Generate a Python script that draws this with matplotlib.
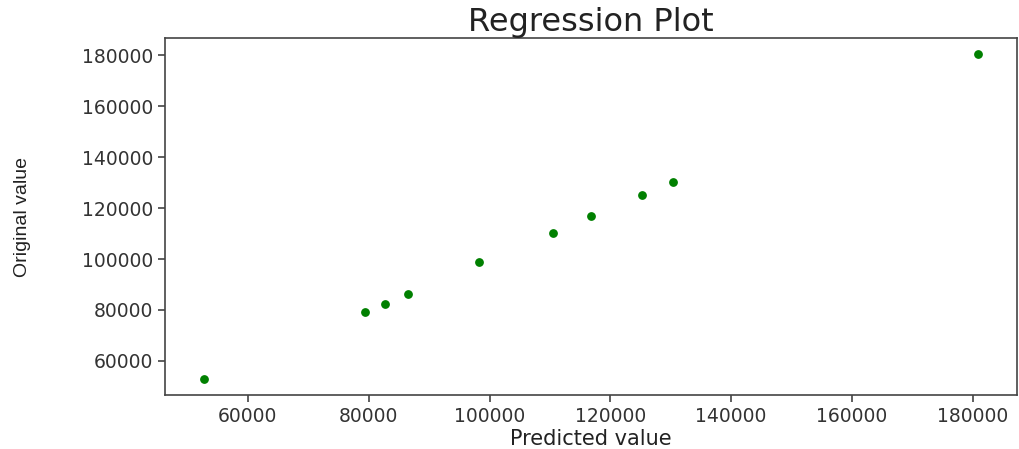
import matplotlib
matplotlib.use('Agg')
import matplotlib.pyplot as plt

# predicted vs original values
predicted = [52700, 79400, 82700, 86500, 98200, 110500, 116800, 125200, 130400, 180900]
original = [52900, 79200, 82400, 86300, 98800, 110300, 116800, 125100, 130300, 180400]

x_ticks = [60000, 80000, 100000, 120000, 140000, 160000, 180000]
y_ticks = [60000, 80000, 100000, 120000, 140000, 160000, 180000]

fig = plt.figure(figsize=(10.19, 4.49), dpi=100)
ax = fig.add_axes([0.162, 0.12, 0.836, 0.795])

ax.scatter(predicted, original, color='green', s=28, zorder=3)

ax.set_xticks(x_ticks)
ax.set_yticks(y_ticks)
ax.tick_params(labelsize=13.5, length=5, width=1.1, colors='#333333')
for sp in ax.spines.values():
    sp.set_linewidth(1.2)
    sp.set_color('#444444')

ax.set_title('Regression Plot', fontsize=23, color='#222222', pad=4)
ax.set_xlabel('Predicted value', fontsize=15, color='#222222', labelpad=2)
ax.set_ylabel('Original value', fontsize=14, color='#222222',
              family=['Liberation Sans', 'DejaVu Sans'])
ax.yaxis.set_label_coords(-0.157, 0.5)

fig.savefig('out.png', dpi=100)
